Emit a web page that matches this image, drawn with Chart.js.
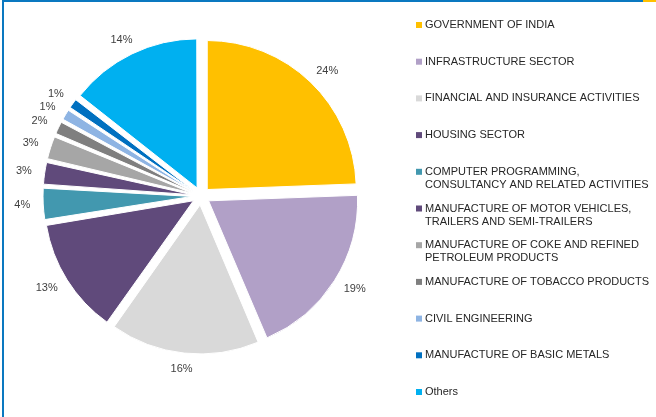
<!DOCTYPE html>
<html>
<head>
<meta charset="utf-8">
<script src="https://cdn.jsdelivr.net/npm/chart.js@4.4.0/dist/chart.umd.min.js"></script>
<style>
  html, body { margin: 0; padding: 0; background: #fff; }
  #wrap { position: relative; width: 656px; height: 417px; overflow: hidden; }
  #topline { position: absolute; left: 2px; top: 0; width: 641px; height: 2px; background: #0A78C0; }
  #topcorner { position: absolute; left: 643px; top: 0; width: 13px; height: 2px; background: #FFC000; }
  #leftline { position: absolute; left: 2px; top: 0; width: 2px; height: 417px; background: #0A78C0; }
</style>
</head>
<body>
<div id="wrap">
  <canvas id="pie" width="656" height="417"></canvas>
  <div id="topline"></div>
  <div id="topcorner"></div>
  <div id="leftline"></div>
</div>
<script>
// --- DATA ---
const sectors = [
    'GOVERNMENT OF INDIA',
    'INFRASTRUCTURE SECTOR',
    'FINANCIAL AND INSURANCE ACTIVITIES',
    'HOUSING SECTOR',
    ['COMPUTER PROGRAMMING,', 'CONSULTANCY AND RELATED ACTIVITIES'],
    ['MANUFACTURE OF MOTOR VEHICLES,', 'TRAILERS AND SEMI-TRAILERS'],
    ['MANUFACTURE OF COKE AND REFINED', 'PETROLEUM PRODUCTS'],
    'MANUFACTURE OF TOBACCO PRODUCTS',
    'CIVIL ENGINEERING',
    'MANUFACTURE OF BASIC METALS',
    'Others'
];
// share of total, % (labels show the rounded value)
const shares = [24.4, 19.2, 16.2, 12.6, 3.6, 2.6, 2.7, 1.6, 1.4, 1.3, 14.4];
const sliceColours = ['#FFC000', '#B1A0C7', '#D9D9D9', '#604A7B', '#4298AF', '#604A7B',
                      '#A6A6A6', '#7F7F7F', '#8EB4E3', '#0070C0', '#00B0F0'];

const FONT = '"Liberation Sans", Arial, sans-serif';
const EXPLODE = 36; // chart.js moves a slice by offset/4

// keep exploded slices at the same radius (chart.js grows thin slices by the offset)
const keepRadius = {
    id: 'keepRadius',
    beforeDatasetsDraw(chart) {
        const meta = chart.getDatasetMeta(0);
        const R = meta.controller.outerRadius;
        meta.data.forEach(arc => {
            const circ = arc.endAngle - arc.startAngle;
            const fix = 1 - Math.sin(Math.min(Math.PI, circ));
            arc.outerRadius = R - (arc.options.offset / 4) * fix;
        });
    }
};

// percentage labels outside the pie
const pctLabels = {
    id: 'pctLabels',
    afterDatasetsDraw(chart) {
        const meta = chart.getDatasetMeta(0);
        const R = meta.controller.outerRadius;
        const ctx = chart.ctx;
        ctx.save();
        ctx.font = '11px ' + FONT;
        const pos = meta.data.map((arc, i) => {
            const txt = Math.round(shares[i]) + '%';
            const mid = (arc.startAngle + arc.endAngle) / 2;
            const dx = Math.cos(mid), dy = Math.sin(mid);
            const D = R + arc.options.offset / 4 + 10;
            const hw = ctx.measureText(txt).width / 2 + 3;
            return { txt, x: arc.x + dx * (D + hw), y: arc.y + dy * (D + 6), left: dx < 0 };
        });
        // crowded labels on the left: spread them apart
        const lefts = pos.filter(p => p.left).sort((a, b) => a.y - b.y);
        for (let k = 1; k < lefts.length; k++) {
            if (lefts[k].y - lefts[k - 1].y < 13) lefts[k].y = lefts[k - 1].y + 13;
        }
        ctx.fillStyle = '#404040';
        ctx.textAlign = 'center';
        ctx.textBaseline = 'middle';
        pos.forEach(p => ctx.fillText(p.txt, p.x, p.y));
        ctx.restore();
    }
};

// legend on the right, one row per sector
const sideLegend = {
    id: 'sideLegend',
    afterDraw(chart) {
        const ctx = chart.ctx;
        ctx.save();
        ctx.font = '11px ' + FONT;
        ctx.textBaseline = 'middle';
        sectors.forEach((name, i) => {
            const lines = Array.isArray(name) ? name : [name];
            const y = 25 + i * 36.7;
            ctx.fillStyle = sliceColours[i];
            ctx.fillRect(416, y - 3, 6, 6);
            ctx.fillStyle = '#262626';
            lines.forEach((ln, k) => ctx.fillText(ln, 425, y + k * 13));
        });
        ctx.restore();
    }
};

const chart = new Chart(document.getElementById('pie'), {
    type: 'pie',
    data: {
        labels: sectors,
        datasets: [{
            data: shares,
            backgroundColor: sliceColours,
            borderColor: '#ffffff',
            borderWidth: 1,
            offset: EXPLODE
        }]
    },
    options: {
        responsive: false,
        animation: false,
        radius: 149,
        layout: { padding: { left: 0, right: 254, top: 0, bottom: 25 } },
        plugins: { legend: { display: false }, tooltip: { enabled: false } }
    },
    plugins: [keepRadius, pctLabels, sideLegend]
});
</script>
</body>
</html>
